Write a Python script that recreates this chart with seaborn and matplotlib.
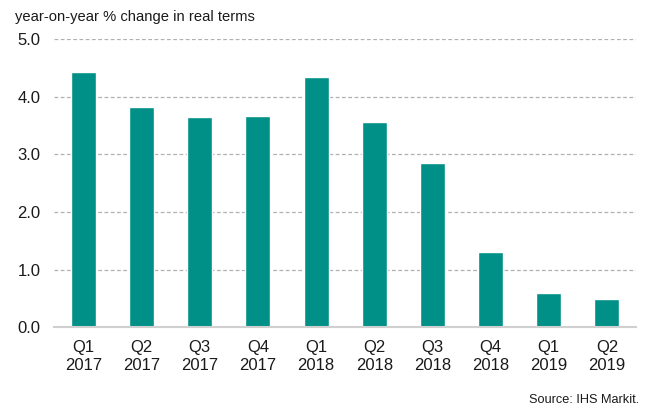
import matplotlib
matplotlib.use("Agg")
import matplotlib.pyplot as plt
import seaborn as sns
import pandas as pd

quarters = ["Q1\n2017", "Q2\n2017", "Q3\n2017", "Q4\n2017", "Q1\n2018",
            "Q2\n2018", "Q3\n2018", "Q4\n2018", "Q1\n2019", "Q2\n2019"]
growth = [4.44, 3.83, 3.65, 3.66, 4.35, 3.57, 2.85, 1.30, 0.59, 0.49]
y_ticks = [0.0, 1.0, 2.0, 3.0, 4.0, 5.0]

sns.set_theme(style="white")
plt.rcParams["font.family"] = ["Liberation Sans", "DejaVu Sans"]

df = pd.DataFrame({"quarter": quarters, "growth": growth})

fig = plt.figure(figsize=(6.46, 4.08), dpi=100)
ax = fig.add_axes([0.0842, 0.1978, 0.9003, 0.7059])

sns.barplot(data=df, x="quarter", y="growth", color="#009087",
            saturation=1, width=0.43, ax=ax, zorder=3)

ax.set_ylim(0, 5)
ax.set_xlim(-0.5, len(quarters) - 0.5)
ax.set_yticks(y_ticks)
ax.set_yticklabels([f"{v:.1f}" for v in y_ticks])
ax.yaxis.grid(True, color="#b0b0b0", linestyle=(0, (3, 2)), linewidth=0.9, zorder=0)
ax.xaxis.grid(False)
ax.set_xlabel("")
ax.set_ylabel("")

for side in ["top", "right", "left"]:
    ax.spines[side].set_visible(False)
ax.spines["bottom"].set_color("#d0d0d0")
ax.spines["bottom"].set_linewidth(1.5)
ax.spines["bottom"].set_zorder(4)

ax.tick_params(axis="both", length=0, labelsize=12, colors="#1a1a1a")
ax.tick_params(axis="y", pad=10)
ax.tick_params(axis="x", pad=9.5)

fig.text(0.0232, 0.9485, "year-on-year % change in real terms",
         fontsize=10.6, color="#1a1a1a", ha="left", va="baseline")
fig.text(0.989, 0.012, "Source: IHS Markit.", fontsize=9.2,
         color="#1a1a1a", ha="right", va="baseline")

fig.savefig("out.png", dpi=100)
